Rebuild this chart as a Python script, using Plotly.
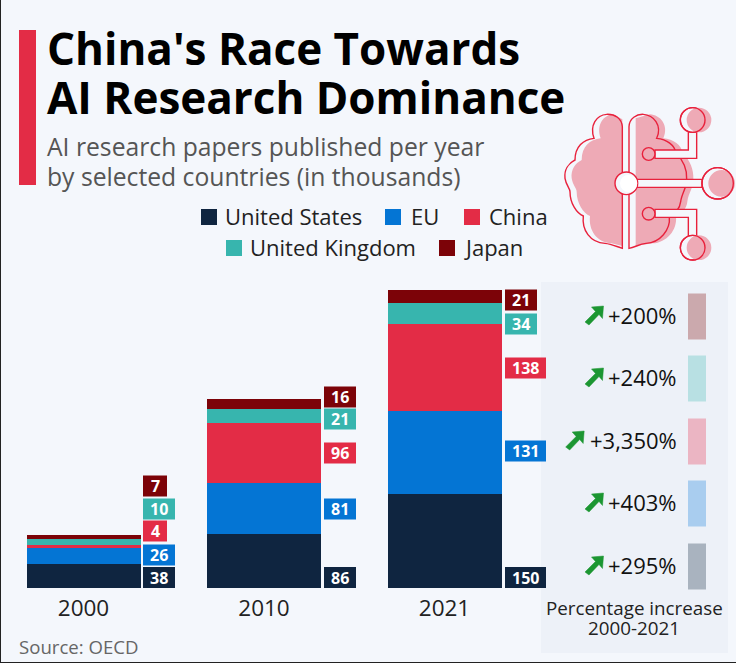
import plotly.graph_objects as go

W, H = 736, 663
BASE = 588
PX_PER_UNIT = 0.629

years = ["2000", "2010", "2021"]
series_names = ["United States", "EU", "China", "United Kingdom", "Japan"]
united_states = [38, 86, 150]
eu = [26, 81, 131]
china = [4, 96, 138]
united_kingdom = [10, 21, 34]
japan = [7, 16, 21]
increases = ["+295%", "+403%", "+3,350%", "+240%", "+200%"]
colors = ["#0f2540", "#0475d4", "#e32c46", "#37b5ae", "#7c0308"]
faded = ["#a9b3bf", "#a9cdef", "#ebb5c3", "#b8e0e3", "#cba9ad"]
BG = "#f4f7fc"
series_values = [united_states, eu, china, united_kingdom, japan]

def px(x): return x / W
def py(y): return (BASE - y) / BASE

fig = go.Figure()
for name, vals, col in zip(series_names, series_values, colors):
    fig.add_bar(x=years, y=vals, name=name, marker=dict(color=col, line_width=0), showlegend=False, hoverinfo="skip")

shapes, ann = [], []

def rect(x0, y0, x1, y1, fill, line=None, lw=0, layer="above"):
    shapes.append(dict(type="rect", xref="paper", yref="paper", x0=px(x0), x1=px(x1), y0=py(y0), y1=py(y1),
                       fillcolor=fill, line=dict(color=line or fill, width=lw), layer=layer))

def text(x, y, s, size, color="#111", anchor="left", bold=False, font="Open Sans"):
    ann.append(dict(xref="paper", yref="paper", x=px(x), y=py(y), text=f"<b>{s}</b>" if bold else s, showarrow=False,
                    xanchor=anchor, yanchor="middle", font=dict(family=font, size=size, color=color),
                    borderpad=0, align=anchor))

def path(cmds):
    out = []
    for c in cmds:
        if isinstance(c, str):
            out.append(c)
        else:
            out.append(f"{px(c[0]):.5f},{py(c[1]):.5f}")
    return " ".join(out)

def shape_path(cmds, fill, line, lw=1.4):
    shapes.append(dict(type="path", xref="paper", yref="paper", path=path(cmds), fillcolor=fill,
                       line=dict(color=line, width=lw), layer="above"))

# background panel and frame
rect(541, 282, 728, 653, "#edf1f8", layer="below")
rect(19, 30, 36, 185, "#e32c46")

# title
text(46, 48, "China's Race Towards", 44, "#000", bold=True)
text(46, 97, "AI Research Dominance", 44, "#000", bold=True)
text(46, 146, "AI research papers published per year", 24.7, "#555")
text(46, 177, "by selected countries (in thousands)", 24.7, "#555")

# legend
leg_rows = [(201, 217, 0, 224), (385, 217, 1, 410), (464, 217, 2, 488), (226, 248, 3, 249), (439, 248, 4, 463)]
for sx, sy, i, tx in leg_rows:
    rect(sx, sy - 8, sx + 16, sy + 8, colors[i])
    text(tx, sy - 1, series_names[i], 22, "#222")

# value labels beside the bars
label_left = [143, 324, 505]
label_y = [[577.5, 577.5, 577.5], [555, 509, 451], [531, 453, 368], [509, 419, 324], [486, 397, 300]]
for si, vals in enumerate(series_values):
    for yi, v in enumerate(vals):
        s = str(v)
        w = {1: 24, 2: 32, 3: 41}[len(s)]
        x0 = label_left[yi]
        yc = label_y[si][yi]
        rect(x0, yc - 10.5, x0 + w, yc + 10.5, colors[si])
        text(x0 + w / 2, yc, s, 16, "#fff", anchor="center", bold=True)

# right panel
inc_y = [566, 503, 441, 378, 316]
inc_w = [69, 69, 111, 69, 69]
for i, s in enumerate(increases):
    yc = inc_y[i]
    text(678, yc - 1, s, 22, "#111", anchor="right")
    rect(688, yc - 22.5, 706, yc + 23.5, faded[i])
    ax = 585 - (inc_w[i] - 69) * 0.46
    ay = yc - 10
    shape_path(["M", (ax + 18.5, ay), "L", (ax + 6.5, ay + 1), "L", (ax + 10.5, ay + 5.5), "L", (ax, ay + 16),
                "L", (ax + 4, ay + 19), "L", (ax + 14, ay + 8.5), "L", (ax + 17.5, ay + 12.5), "Z"], "#1c9632", "#1c9632", 0.5)
text(634, 608, "Percentage increase", 18.8, "#222", anchor="center")
text(634, 628, "2000-2021", 18.8, "#222", anchor="center")

text(18, 646, "Source: OECD", 18.6, "#666")

# brain icon, drawn in zoom coordinates
def Z(x, y): return (540 + x / 3, 90 + y / 3)

def curve(pts, dx=0):
    cmds = []
    for seg in pts:
        if isinstance(seg, str):
            cmds.append(seg)
        else:
            cmds.append(Z(seg[0] + dx, seg[1]))
    return cmds

left_outline = ["C", (245, 85), (225, 72), (200, 73), "C", (170, 75), (148, 105), (162, 145),
                "C", (130, 148), (105, 170), (105, 210), "C", (85, 220), (72, 240), (75, 265),
                "C", (78, 285), (90, 295), (90, 305), "C", (90, 340), (110, 370), (130, 378),
                "C", (125, 420), (150, 458), (195, 460), "C", (215, 462), (230, 470), (247, 475)]
right_outline = ["C", (268, 85), (290, 72), (310, 73), "C", (340, 75), (368, 105), (350, 145),
                 "C", (380, 148), (405, 165), (408, 190), "C", (430, 210), (442, 240), (440, 268),
                 "C", (442, 290), (425, 310), (422, 335), "C", (420, 355), (405, 372), (388, 380),
                 "C", (392, 420), (360, 458), (318, 460), "C", (298, 462), (285, 472), (267, 475)]
PINK = "#eeaab6"
RED = "#e8213c"

# pink layers
shapes_left = ["M", Z(247, 88), "L", Z(220, 73)] + curve(left_outline[4:-4], 20) + ["L", Z(247, 468), "Z"]
shape_path(shapes_left, PINK, PINK, 0)
shapes_right = ["M", Z(287, 85), "L", Z(330, 73)] + curve(right_outline[4:-4], 20) + ["L", Z(287, 468), "Z"]
shape_path(shapes_right, PINK, PINK, 0)
# red outlines
shape_path(["M", Z(247, 110)] + curve(left_outline) + ["Z"], "rgba(0,0,0,0)", RED)
shape_path(["M", Z(267, 110)] + curve(right_outline) + ["Z"], "rgba(0,0,0,0)", RED)

def circle(cx, cy, r, fill, line, lw=1.4):
    x, y = Z(cx, cy)
    r = r / 3
    shapes.append(dict(type="circle", xref="paper", yref="paper", x0=px(x - r), x1=px(x + r), y0=py(y + r), y1=py(y - r),
                       fillcolor=fill, line=dict(color=line, width=lw), layer="above"))

# connectors
shape_path(["M", Z(345, 180), "L", Z(445, 180), "L", Z(445, 125), "L", Z(470, 125), "L", Z(470, 205), "L", Z(345, 205), "Z"], BG, RED)
shape_path(["M", Z(345, 358), "L", Z(470, 358), "L", Z(470, 437), "L", Z(445, 437), "L", Z(445, 382), "L", Z(345, 382), "Z"], BG, RED)
shape_path(["M", Z(290, 268), "L", Z(487, 268), "L", Z(487, 292), "L", Z(290, 292), "Z"], BG, RED)
# end circles
for cx, cy, r, off in [(458, 90, 37, 19), (458, 473, 37, 19), (533, 280, 47, 12)]:
    circle(cx, cy, r, BG, RED)
    circle(cx + off, cy, r - (0 if off == 19 else 7), PINK, PINK, 0)
    circle(cx, cy, r, "rgba(0,0,0,0)", RED)
for cy in (192, 371):
    circle(326, cy, 19, PINK, RED)
circle(259, 280, 34, BG, RED)
circle(266, 280, 26, "#ffffff", "#ffffff", 0)

# frame on the picture's edges
rect(0, 0, 1, 663, "#222")
rect(0, 662, 736, 663, "#222")

fig.update_layout(
    width=W, height=H, autosize=False, barmode="stack", bargap=1 - 114 / 180.5,
    margin=dict(l=0, r=0, t=0, b=H - BASE, pad=0),
    paper_bgcolor=BG, plot_bgcolor="rgba(0,0,0,0)",
    shapes=shapes, annotations=ann,
    font=dict(family="Open Sans"),
    xaxis=dict(type="category", categoryorder="array", categoryarray=years,
               range=[(0 - 83.5) / 180.5, (W - 83.5) / 180.5], showgrid=False, zeroline=False, showline=False,
               ticks="", ticklabelstandoff=4, tickfont=dict(size=22.5, color="#222", family="Open Sans")),
    yaxis=dict(range=[0, BASE / PX_PER_UNIT], visible=False),
)
fig.write_html("out.html", config={"displayModeBar": False},
               post_script="document.body.style.margin='0';document.documentElement.style.overflow='hidden';document.body.style.overflow='hidden';window.dispatchEvent(new Event('resize'));")
